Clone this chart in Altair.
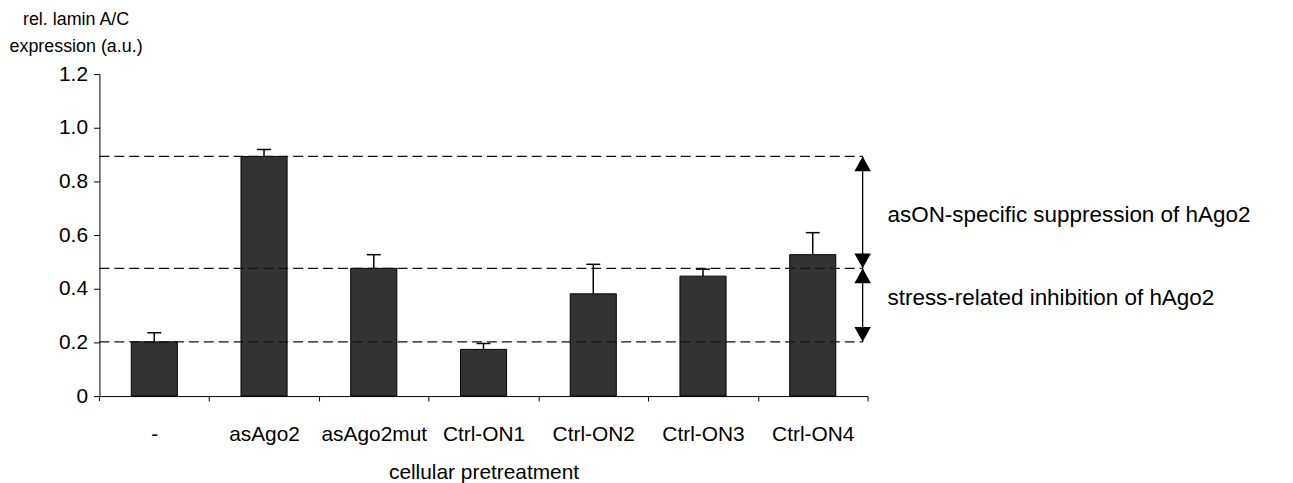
import altair as alt
import pandas as pd

# ---- data ----
categories = ["-", "asAgo2", "asAgo2mut", "Ctrl-ON1", "Ctrl-ON2", "Ctrl-ON3", "Ctrl-ON4"]
values = [0.202, 0.893, 0.476, 0.174, 0.381, 0.447, 0.527]
errors = [0.034, 0.026, 0.051, 0.022, 0.110, 0.026, 0.082]
levels = [0.893, 0.476, 0.202]
arrow_top = [0.893, 0.476]
arrow_bottom = [0.476, 0.202]
annotations = ["asON-specific suppression of hAgo2", "stress-related inhibition of hAgo2"]
annotation_y = [0.674, 0.367]
y_ticks = [0, 0.2, 0.4, 0.6, 0.8, 1.0, 1.2]
y_title = ["rel. lamin A/C", "expression (a.u.)"]
x_title = "cellular pretreatment"

FONT = "Liberation Sans"
W, H = 773, 324
STEP = W / len(categories)
P_IN, P_OUT = 0.58, 0.29

bars_df = pd.DataFrame({
    "cat": categories,
    "val": values,
    "top": [v + e for v, e in zip(values, errors)],
})
levels_df = pd.DataFrame({"level": levels})
arrows_df = pd.DataFrame({
    "a": arrow_top,
    "b": arrow_bottom,
    "ty": annotation_y,
    "label": annotations,
})

yscale = alt.Scale(domain=[0, 1.2], nice=False, zero=True)
xscale = alt.Scale(paddingInner=P_IN, paddingOuter=P_OUT)

x_axis = alt.Axis(
    title=x_title, labelAngle=0, tickSize=5,
    tickOffset=STEP / 2, labelOffset=-STEP / 2,
    labelFontSize=21, labelColor="black", labelPadding=23,
    titleFontSize=21, titleFontWeight="normal", titleColor="black", titlePadding=17,
    domainColor="black", tickColor="black", grid=False,
)
y_axis = alt.Axis(
    values=y_ticks,
    labelExpr="datum.value == 0 ? '0' : format(datum.value, '.1f')",
    title=y_title, titleAngle=0, titleAlign="center", titleBaseline="middle",
    titleX=-24, titleY=-55, titleFontSize=18, titleFontWeight="normal",
    titleColor="black", titleLineHeight=27,
    grid=False, tickSize=6, labelFontSize=21, labelColor="black", labelPadding=6,
    domainColor="black", tickColor="black",
)


def Y(field):
    return alt.Y(field, scale=yscale, axis=y_axis)


base = alt.Chart(bars_df)
X = alt.X("cat:N", sort=categories, scale=xscale, axis=x_axis)

bars = base.mark_bar(color="#333333", stroke="black", strokeWidth=1).encode(
    x=X, y=Y("val:Q")
)
err_lines = base.mark_rule(color="black", strokeWidth=1.5).encode(
    x=X, y=Y("val:Q"), y2="top:Q"
)
err_caps = base.mark_tick(color="black", size=14, thickness=1.5, opacity=1).encode(
    x=X, y=Y("top:Q")
)

# first category-boundary tick at the origin (the axis draws the others)
origin_tick = alt.Chart(levels_df.head(1)).mark_rule(color="black", strokeWidth=1).encode(
    x=alt.value(0), y=alt.value(H), y2=alt.value(H + 5)
)

dashes = alt.Chart(levels_df).mark_rule(
    color="#111111", strokeWidth=1.3, strokeDash=[10, 5]
).encode(
    x=alt.value(0), x2=alt.value(768), y=Y("level:Q")
)

arrow_lines = alt.Chart(arrows_df).mark_rule(color="black", strokeWidth=1.3).encode(
    x=alt.value(768), y=Y("a:Q"), y2="b:Q"
)
head_up = alt.Chart(arrows_df).mark_point(
    shape="M0,0L-1,1.8L1,1.8Z", filled=True, size=276, color="black", opacity=1
).encode(x=alt.value(768), y=Y("a:Q"))
head_down = alt.Chart(arrows_df).mark_point(
    shape="M0,0L-1,-1.8L1,-1.8Z", filled=True, size=276, color="black", opacity=1
).encode(x=alt.value(768), y=Y("b:Q"))

texts = alt.Chart(arrows_df).mark_text(
    align="left", baseline="middle", fontSize=22.6, font=FONT, color="black"
).encode(
    x=alt.value(793), y=Y("ty:Q"), text="label:N"
)

chart = alt.layer(
    bars, err_lines, err_caps, origin_tick, dashes, arrow_lines, head_up, head_down, texts
).properties(
    width=W, height=H,
    autosize=alt.AutoSizeParams(type="none"),
    padding={"left": 92, "top": 65, "right": 420, "bottom": 90},
).configure(
    font=FONT,
).configure_view(stroke=None)

chart.save("out.html", embed_options={"renderer": "svg", "actions": False})
